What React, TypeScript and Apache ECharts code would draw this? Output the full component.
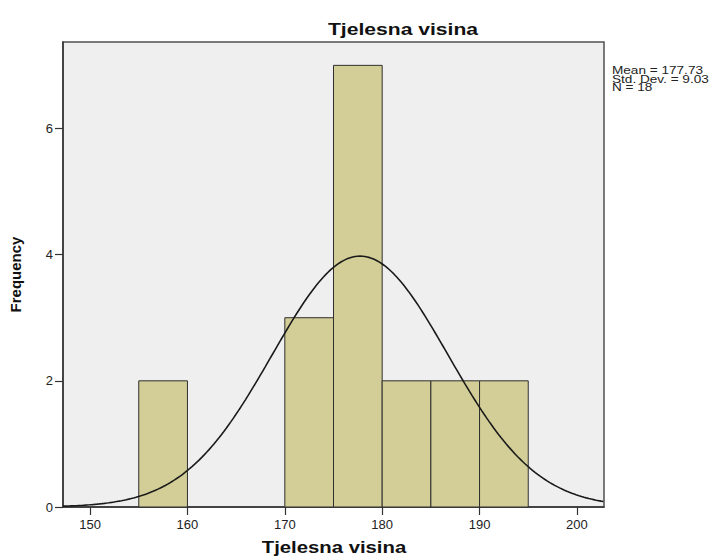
import React, { useEffect, useRef } from "react";
import * as echarts from "echarts";

// Histogram bins (Tjelesna visina)
const binStarts = [155, 170, 175, 180, 185, 190];
const binEnds = [160, 175, 180, 185, 190, 195];
const counts = [2, 3, 7, 2, 2, 2];

// Summary statistics shown on the chart
const meanValue = 177.73;
const stdDev = 9.03;
const nCount = 18;
const binWidth = 5;

// Axis ticks
const xTicks = [150, 160, 170, 180, 190, 200];
const yTicks = [0, 2, 4, 6];
const xMin = 147.22;
const xMax = 202.78;
const yMax = 7.37;

const statLines = [
  `Mean = ${meanValue.toFixed(2)}`,
  `Std. Dev. = ${stdDev.toFixed(2)}`,
  `N = ${nCount}`,
];

// Fitted normal curve (SPSS overlay) defined by the displayed mean, SD and N
const curveXs: number[] = [];
for (let x = xMin; x <= xMax + 1e-9; x += 0.25) curveXs.push(x);
const curve = curveXs.map((x) => [
  x,
  (nCount * binWidth) / (stdDev * Math.sqrt(2 * Math.PI)) *
    Math.exp(-((x - meanValue) ** 2) / (2 * stdDev * stdDev)),
]);

const FONT = "'Liberation Sans', Arial, sans-serif";

export default function App() {
  const ref = useRef<HTMLDivElement>(null);
  useEffect(() => {
    document.body.style.margin = "0";
    if (!ref.current) return;
    const chart = echarts.init(ref.current, null, { renderer: "svg" });
    const barData = binStarts.map((s, i) => [s, binEnds[i], counts[i]]);
    chart.setOption({
      animation: false,
      backgroundColor: "#ffffff",
      textStyle: { fontFamily: FONT },
      grid: {
        left: 58,
        right: 110,
        top: 42,
        bottom: 51,
        show: true,
        backgroundColor: "#efefef",
        borderColor: "#505050",
        borderWidth: 1.5,
      },
      graphic: [
        {
          type: "text",
          x: 403,
          y: 29,
          scaleX: 1.32,
          style: {
            text: "Tjelesna visina",
            font: `bold 16px ${FONT}`,
            fill: "#111111",
            align: "center",
            verticalAlign: "middle",
          },
        },
        {
          type: "text",
          x: 334,
          y: 547,
          scaleX: 1.27,
          style: {
            text: "Tjelesna visina",
            font: `bold 16px ${FONT}`,
            fill: "#111111",
            align: "center",
            verticalAlign: "middle",
          },
        },
        ...statLines.map((t, i) => ({
          type: "text",
          x: 612,
          y: 71 + i * 8.4,
          scaleX: 1.36,
          style: {
            text: t,
            font: `10px ${FONT}`,
            fill: "#222222",
            align: "left",
            verticalAlign: "middle",
          },
        })),
      ],
      xAxis: {
        type: "value",
        min: xMin,
        max: xMax,
        splitLine: { show: false },
        axisLine: { show: true, onZero: false, lineStyle: { color: "#333333", width: 1.5 } },
        axisTick: {
          show: true,
          length: 8,
          customValues: xTicks,
          lineStyle: { color: "#333333", width: 1.2 },
        },
        axisLabel: {
          customValues: xTicks,
          fontSize: 13,
          color: "#222222",
          margin: 11,
          fontFamily: FONT,
        },
      },
      yAxis: {
        type: "value",
        min: 0,
        max: yMax,
        name: "Frequency",
        nameLocation: "middle",
        nameGap: 40,
        nameTextStyle: { fontSize: 15, fontWeight: "bold", color: "#111111", fontFamily: FONT },
        splitLine: { show: false },
        axisLine: { show: true, lineStyle: { color: "#333333", width: 1.5 } },
        axisTick: {
          show: true,
          length: 8,
          customValues: yTicks,
          lineStyle: { color: "#333333", width: 1.2 },
        },
        axisLabel: {
          customValues: yTicks,
          fontSize: 13,
          color: "#222222",
          margin: 10,
          fontFamily: FONT,
        },
      },
      series: [
        {
          type: "custom",
          data: barData,
          encode: { x: [0, 1], y: 2 },
          renderItem: (params: any, api: any) => {
            const x0 = api.value(0);
            const x1 = api.value(1);
            const y = api.value(2);
            const p0 = api.coord([x0, y]);
            const p1 = api.coord([x1, 0]);
            return {
              type: "rect",
              shape: { x: p0[0], y: p0[1], width: p1[0] - p0[0], height: p1[1] - p0[1] },
              style: { fill: "#d3ce97", stroke: "#2e2e2e", lineWidth: 1 },
            };
          },
          z: 2,
        },
        {
          type: "line",
          data: curve,
          showSymbol: false,
          symbol: "none",
          smooth: false,
          lineStyle: { color: "#1a1a1a", width: 1.6 },
          z: 3,
        },
      ],
    });
    return () => chart.dispose();
  }, []);
  return <div ref={ref} style={{ width: 714, height: 558 }} />;
}
